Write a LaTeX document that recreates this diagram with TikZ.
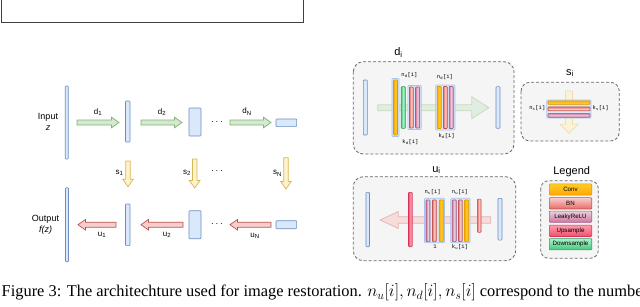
\documentclass[tikz,border=0pt]{standalone}
\usepackage{fontspec}
\setmainfont{Liberation Serif}
\setsansfont{Liberation Sans}
\setmonofont{Liberation Mono}
\usetikzlibrary{calc}
\definecolor{blueS}{HTML}{6C8EBF}\definecolor{blueF}{HTML}{DAE8FC}
\definecolor{greenS}{HTML}{82B366}\definecolor{greenF}{HTML}{D5E8D4}
\definecolor{yelS}{HTML}{D6B656}\definecolor{yelF}{HTML}{FFF2CC}
\definecolor{redS}{HTML}{B85450}\definecolor{redF}{HTML}{F8CECC}
\definecolor{grayS}{HTML}{666666}\definecolor{grayF}{HTML}{F5F5F5}
\definecolor{convA}{HTML}{FFCD28}\definecolor{convB}{HTML}{FFA500}\definecolor{convS}{HTML}{D79B00}
\definecolor{bnA}{HTML}{F8CECC}\definecolor{bnB}{HTML}{EA6B66}\definecolor{bnS}{HTML}{B85450}
\definecolor{reA}{HTML}{E6D0DE}\definecolor{reB}{HTML}{D5739D}\definecolor{reS}{HTML}{996185}
\definecolor{upA}{HTML}{FF9AAA}\definecolor{upB}{HTML}{F0506E}\definecolor{upS}{HTML}{D6335A}
\definecolor{dnA}{HTML}{AEF0C8}\definecolor{dnB}{HTML}{45C77F}\definecolor{dnS}{HTML}{2F9E5F}
\definecolor{hlS}{HTML}{A9C4EB}\definecolor{hlF}{HTML}{DAE8FC}
\newcommand\flexarrow[6]{%
  \coordinate (fah) at ($(#2)!#5!(#1)$);
  \path[#6] ($(#1)!#3!90:(#2)$) -- ($(fah)!#3!-90:(#1)$) -- ($(fah)!#4!-90:(#1)$) -- (#2)
    -- ($(fah)!#4!90:(#1)$) -- ($(fah)!#3!90:(#1)$) -- ($(#1)!#3!-90:(#2)$) -- cycle;}
\newcommand\blk[6]{\node[#1, minimum width=#5pt, minimum height=#6pt] (#2) at (#3,#4) {};}
\tikzset{
  box/.style={inner sep=0pt, outer sep=0pt, rounded corners=0.8pt, line width=0.6pt},
  bluebar/.style={box, draw=blueS, fill=blueF},
  hl/.style={box, draw=hlS, fill=hlF, line width=0.7pt},
  vconv/.style={box, draw=convS, left color=convB, right color=convB, middle color=convA},
  vbn/.style={box, draw=bnS, left color=bnB, right color=bnB, middle color=bnA},
  vre/.style={box, draw=reS, left color=reB, right color=reB, middle color=reA},
  vup/.style={box, draw=upS, left color=upB, right color=upB, middle color=upA},
  vdn/.style={box, draw=dnS, left color=dnB, right color=dnB, middle color=dnA},
  hconv/.style={box, draw=convS, top color=convB, bottom color=convB, middle color=convA},
  hbn/.style={box, draw=bnS, top color=bnB, bottom color=bnB, middle color=bnA},
  hre/.style={box, draw=reS, top color=reB, bottom color=reB, middle color=reA},
  lconv/.style={box, draw=convS, top color=convA, bottom color=convB},
  lbn/.style={box, draw=bnS, top color=bnA, bottom color=bnB},
  lre/.style={box, draw=reS, top color=reA, bottom color=reB},
  lup/.style={box, draw=upS, top color=upA, bottom color=upB},
  ldn/.style={box, draw=dnS, top color=dnA, bottom color=dnB},
  garrow/.style={draw=greenS, fill=greenF, line width=0.7pt},
  yarrow/.style={draw=yelS, fill=yelF, line width=0.7pt},
  rarrow/.style={draw=redS, fill=redF, line width=0.7pt},
  gbig/.style={draw=greenS, fill=greenF, line width=0.7pt, draw opacity=0.35, fill opacity=0.6},
  ybig/.style={draw=yelS, fill=yelF, line width=0.7pt, draw opacity=0.35, fill opacity=0.7},
  rbig/.style={draw=redS, fill=redF, line width=0.7pt, draw opacity=0.35, fill opacity=0.6},
  panel/.style={draw=grayS, fill=grayF, dash pattern=on 3pt off 2pt, line width=0.8pt, rounded corners=10pt},
  lab/.style={inner sep=0pt, font=\sffamily\fontsize{8}{9}\selectfont},
  io/.style={inner sep=0pt, align=center, font=\sffamily\fontsize{9}{11}\selectfont},
  ttl/.style={inner sep=0pt, font=\sffamily\fontsize{11}{12}\selectfont},
  sm/.style={inner sep=0pt, font=\ttfamily\fontsize{5.5}{6}\selectfont},
  leg/.style={inner sep=0pt, font=\sffamily\fontsize{6.2}{7}\selectfont},
  dots/.style={inner sep=0pt, font=\fontsize{10}{10}\selectfont},
}
\begin{document}
\begin{tikzpicture}[x=1pt, y=-1pt]
\useasboundingbox (0,0) rectangle (640,306);
\clip (0,0) rectangle (640,306);
% top box (cut)
\draw[draw=black!75, line width=0.9pt] (1.5,-10) rectangle (303,22.3);

% ---------------- left diagram ----------------
\blk{bluebar}{in}{66.75}{122.5}{3}{73}
\blk{bluebar}{out}{67}{224.7}{3}{74}
\blk{bluebar}{b1}{127.75}{121.5}{4.5}{41}
\blk{bluebar}{b2}{195}{122}{12}{28}
\blk{bluebar}{b3}{286.3}{122.8}{20.7}{7.7}
\blk{bluebar}{c1}{127.75}{224.8}{4.5}{41.7}
\blk{bluebar}{c2}{195}{224.7}{12}{28}
\blk{bluebar}{c3}{286.3}{224.7}{20.7}{8}

\node[io] (inlab) at (48,121.5) {Input\\\textit{z}};
\node[io] (outlab) at (45.5,224.5) {Output\\\textit{f(z)}};

\coordinate (d1s) at (77,122.5);  \coordinate (d1e) at (119,122.5);
\coordinate (d2s) at (141,122.5); \coordinate (d2e) at (182,122.5);
\coordinate (dNs) at (230,122.5); \coordinate (dNe) at (271,122.5);
\flexarrow{d1s}{d1e}{2.5pt}{5.3pt}{7.5pt}{garrow}
\flexarrow{d2s}{d2e}{2.5pt}{5.3pt}{7.5pt}{garrow}
\flexarrow{dNs}{dNe}{2.5pt}{5.3pt}{7.5pt}{garrow}
\node[lab] (ld1) at (98,112) {d\textsubscript{1}};
\node[lab] (ld2) at (162,112) {d\textsubscript{2}};
\node[lab] (ldN) at (247,111.5) {d\textsubscript{N}};
\node[dots] (dt1) at (217,122) {$\cdots$};

\coordinate (s1s) at (128,161);   \coordinate (s1e) at (128,186.7);
\coordinate (s2s) at (194.7,159); \coordinate (s2e) at (194.7,188);
\coordinate (sNs) at (286,157.7); \coordinate (sNe) at (286,189);
\flexarrow{s1s}{s1e}{2.3pt}{5.3pt}{7.5pt}{yarrow}
\flexarrow{s2s}{s2e}{2.3pt}{5.3pt}{7.5pt}{yarrow}
\flexarrow{sNs}{sNe}{2.3pt}{5.3pt}{7.5pt}{yarrow}
\node[lab] (ls1) at (119.5,172.7) {s\textsubscript{1}};
\node[lab] (ls2) at (187,173) {s\textsubscript{2}};
\node[lab] (lsN) at (277.5,173.5) {s\textsubscript{N}};
\node[dots] (dt2) at (217,171.5) {$\cdots$};

\coordinate (u1s) at (116,224.7); \coordinate (u1e) at (78,224.7);
\coordinate (u2s) at (183,224.7); \coordinate (u2e) at (141,224.7);
\coordinate (uNs) at (271,224.7); \coordinate (uNe) at (230,224.7);
\flexarrow{u1s}{u1e}{2.5pt}{5.3pt}{7.5pt}{rarrow}
\flexarrow{u2s}{u2e}{2.5pt}{5.3pt}{7.5pt}{rarrow}
\flexarrow{uNs}{uNe}{2.5pt}{5.3pt}{7.5pt}{rarrow}
\node[lab] (lu1) at (102,235) {u\textsubscript{1}};
\node[lab] (lu2) at (167,235) {u\textsubscript{2}};
\node[lab] (luN) at (255,236) {u\textsubscript{N}};
\node[dots] (dt3) at (217,224) {$\cdots$};

% ---------------- d_i panel ----------------
\draw[panel] (353.3,61.7) rectangle (514,154);
\node[ttl] (tdi) at (398.5,52.5) {d\textsubscript{i}};
\coordinate (gas) at (377.7,107.7); \coordinate (gae) at (489,107.7);
\flexarrow{gas}{gae}{3pt}{11pt}{17.3pt}{gbig}
\blk{bluebar}{dl}{365.3}{107.5}{4}{55}
\blk{bluebar}{dr}{498}{107.5}{4}{41.7}
\blk{hl}{dh1}{395.5}{107.5}{7}{58}
\blk{vconv}{dc1}{395.5}{107.5}{4}{55}
\blk{vdn}{dd1}{403.2}{107.5}{4.3}{41.6}
\blk{hl}{dh2}{414.6}{107.5}{13.5}{44}
\blk{vbn}{db1}{411.3}{107.5}{4}{41}
\blk{vre}{dr1}{417.6}{107.5}{4.2}{41}
\blk{hl}{dh3}{445.3}{107.5}{19.3}{45}
\blk{vconv}{dc2}{439.2}{107.5}{4.2}{42}
\blk{vbn}{db2}{445.3}{107.5}{4}{42}
\blk{vre}{dr2}{451.2}{107.5}{4.2}{42}
\node[sm] (nd1) at (409.5,75) {n\textsubscript{d}[i]};
\node[sm] (kd1) at (410.5,142.3) {k\textsubscript{d}[i]};
\node[sm] (nd2) at (445,77.5) {n\textsubscript{d}[i]};
\node[sm] (kd2) at (446.7,135.7) {k\textsubscript{d}[i]};

% ---------------- s_i panel ----------------
\draw[panel, rounded corners=9pt] (521,82.3) rectangle (619.3,141);
\node[ttl] (tsi) at (570,73) {s\textsubscript{i}};
\coordinate (yas) at (569,91); \coordinate (yae) at (569,133.3);
\flexarrow{yas}{yae}{3.5pt}{9pt}{9pt}{ybig}
\blk{hl}{sh}{568.9}{109}{44.3}{18}
\blk{hconv}{sc}{569}{102.6}{42}{3.6}
\blk{hbn}{sb}{569}{108.9}{42}{4}
\blk{hre}{sr}{569}{115.3}{42}{3.8}
\node[sm] (ns) at (537.3,108.3) {n\textsubscript{s}[i]};
\node[sm] (ks) at (600.7,108.3) {k\textsubscript{s}[i]};

% ---------------- u_i panel ----------------
\draw[panel] (353.3,176.7) rectangle (515.7,260.7);
\node[ttl] (tui) at (436.5,170) {u\textsubscript{i}};
\coordinate (ras) at (490.7,220); \coordinate (rae) at (380,220);
\flexarrow{ras}{rae}{3.3pt}{8.5pt}{18.3pt}{rbig}
\blk{bluebar}{ul}{367.7}{219.5}{3.5}{54.4}
\blk{bluebar}{ur}{500}{219.2}{4}{41.7}
\blk{vup}{uu}{410.4}{219.5}{3.8}{54.4}
\blk{hl}{uh1}{434.5}{220.5}{20}{44.4}
\blk{vre}{ur1}{428}{220.8}{4}{41.7}
\blk{vbn}{ub1}{434.3}{220.8}{4}{41.7}
\blk{vconv}{uc1}{441.2}{220.8}{4.3}{41.7}
\blk{hl}{uh2}{460.35}{220.5}{19.3}{44.4}
\blk{vre}{ur2}{454.2}{220.8}{4.3}{41.7}
\blk{vbn}{ub2}{460.3}{220.8}{4}{41.7}
\blk{vconv}{uc2}{466.5}{220.8}{4.4}{41.7}
\blk{vbn}{ub3}{479.2}{215.7}{3.7}{33.3}
\node[sm] (nsu) at (432.7,191.7) {n\textsubscript{s}[i]};
\node[sm] (nuu) at (460,191.7) {n\textsubscript{u}[i]};
\node[sm] (one) at (435,246.7) {1};
\node[sm] (kuu) at (460,246.7) {k\textsubscript{u}[i]};

% ---------------- legend ----------------
\node[ttl] (tleg) at (571.7,171.7) {Legend};
\draw[panel, rounded corners=8pt] (540.7,180.7) rectangle (598.3,258.3);
\node[lconv, minimum width=42.4pt, minimum height=11.3pt, leg] (lg1) at (570.5,189.5) {Conv};
\node[lbn, minimum width=42.4pt, minimum height=11.3pt, leg] (lg2) at (570.5,203.3) {BN};
\node[lre, minimum width=42.4pt, minimum height=11.3pt, leg] (lg3) at (570.5,216.7) {LeakyReLU};
\node[lup, minimum width=42.4pt, minimum height=11.3pt, leg] (lg4) at (570.5,230.8) {Upsample};
\node[ldn, minimum width=42.4pt, minimum height=11.3pt, leg] (lg5) at (570.5,244.2) {Downsample};

% ---------------- caption (cut at the right edge as in the page crop) ----------------
\node[anchor=base west, inner sep=0pt, font=\fontsize{16.4}{19}\selectfont] (cap) at (1.5,296.5)
  {Figure 3: The architechture used for image restoration. $n_u[i], n_d[i], n_s[i]$ correspond to the number};
\end{tikzpicture}
\end{document}
